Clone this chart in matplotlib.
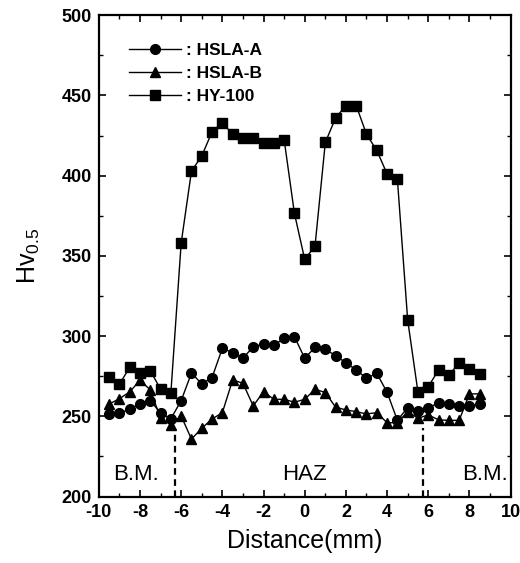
import numpy as np
import matplotlib
matplotlib.use("Agg")
import matplotlib.pyplot as plt

plt.rcParams['font.family'] = ['Liberation Sans', 'DejaVu Sans']
plt.rcParams['mathtext.fontset'] = 'custom'
plt.rcParams['mathtext.rm'] = 'Liberation Sans'
plt.rcParams['axes.unicode_minus'] = False

# distance (mm), one reading every 0.5 mm
distance = [-9.5, -9.0, -8.5, -8.0, -7.5, -7.0, -6.5, -6.0, -5.5, -5.0,
            -4.5, -4.0, -3.5, -3.0, -2.5, -2.0, -1.5, -1.0, -0.5, 0.0,
            0.5, 1.0, 1.5, 2.0, 2.5, 3.0, 3.5, 4.0, 4.5, 5.0,
            5.5, 6.0, 6.5, 7.0, 7.5, 8.0, 8.5]

hsla_a = [251.5, 251.9, 254.4, 257.7, 259.8, 252.1, 248.5, 259.8, 277.0, 270.2,
          274.2, 292.4, 289.7, 286.2, 293.4, 295.1, 294.3, 298.6, 299.6, 286.2,
          293.0, 291.8, 287.8, 283.4, 278.9, 273.7, 276.8, 265.0, 247.5, 255.5,
          253.5, 255.5, 258.2, 257.5, 256.3, 256.5, 257.8]

hsla_b = [257.6, 261.0, 265.2, 272.5, 266.5, 248.8, 244.8, 250.2, 235.8, 242.6,
          248.3, 252.3, 272.7, 270.6, 256.5, 265.4, 260.6, 260.6, 258.8, 260.6,
          266.9, 264.8, 255.7, 254.0, 252.9, 251.5, 252.3, 246.0, 246.0, 253.0,
          248.8, 250.9, 247.8, 247.5, 247.5, 264.0, 264.0]

hy100 = [274.7, 270.0, 280.5, 277.0, 278.4, 267.0, 264.6, 358.0, 402.8, 412.3,
         427.3, 433.1, 425.7, 423.5, 423.5, 420.4, 420.4, 422.5, 376.5, 347.8,
         356.1, 420.7, 436.0, 443.7, 443.7, 425.8, 415.7, 401.1, 397.8, 310.0,
         265.0, 268.5, 278.9, 275.6, 283.4, 279.7, 276.6]

# HAZ boundaries
boundaries = [-6.3, 5.75]
boundary_top = 243

fig = plt.figure(figsize=(5.2, 5.63), dpi=100)
ax = fig.add_axes([0.190, 0.118, 0.792, 0.855])

ax.plot(distance, hsla_b, '-^', color='black', lw=1, ms=7.5, label=': HSLA-B', zorder=3)
ax.plot(distance, hsla_a, '-o', color='black', lw=1, ms=7, label=': HSLA-A', zorder=4)
ax.plot(distance, hy100, '-s', color='black', lw=1, ms=6.5, label=': HY-100', zorder=5)

for b in boundaries:
    ax.plot([b, b], [200, boundary_top], '--', color='black', lw=1.6, dashes=(3, 2))

ax.text(-9.3, 214, 'B.M.', fontsize=16, ha='left', va='center')
ax.text(0, 214, 'HAZ', fontsize=16, ha='center', va='center')
ax.text(9.85, 214, 'B.M.', fontsize=16, ha='right', va='center')

ax.set_xlim(-10, 10)
ax.set_ylim(200, 500)
ax.set_xticks(np.arange(-10, 11, 2))
ax.set_yticks(np.arange(200, 501, 50))
ax.set_xticks(np.arange(-10, 11, 1), minor=True)
ax.set_yticks(np.arange(200, 501, 25), minor=True)
ax.tick_params(which='both', direction='in', top=True, right=True)
ax.tick_params(which='major', length=5, width=1.2, labelsize=13, pad=5)
ax.tick_params(which='minor', length=3, width=1)
for lab in ax.get_xticklabels() + ax.get_yticklabels():
    lab.set_fontweight('bold')
for s in ax.spines.values():
    s.set_linewidth(1.6)

ax.set_xlabel('Distance(mm)', fontsize=18, labelpad=6)
ax.set_ylabel(r'Hv$_{\mathregular{0.5}}$', fontsize=18, labelpad=14)

h, l = ax.get_legend_handles_labels()
order = [1, 0, 2]
ax.legend([h[i] for i in order], [l[i] for i in order], loc='upper left',
          bbox_to_anchor=(0.035, 0.975), frameon=False, numpoints=1,
          handlelength=3.0, handletextpad=0.3, labelspacing=0.45,
          prop={'weight': 'bold', 'size': 12.5})

fig.savefig('out.png', dpi=100)
